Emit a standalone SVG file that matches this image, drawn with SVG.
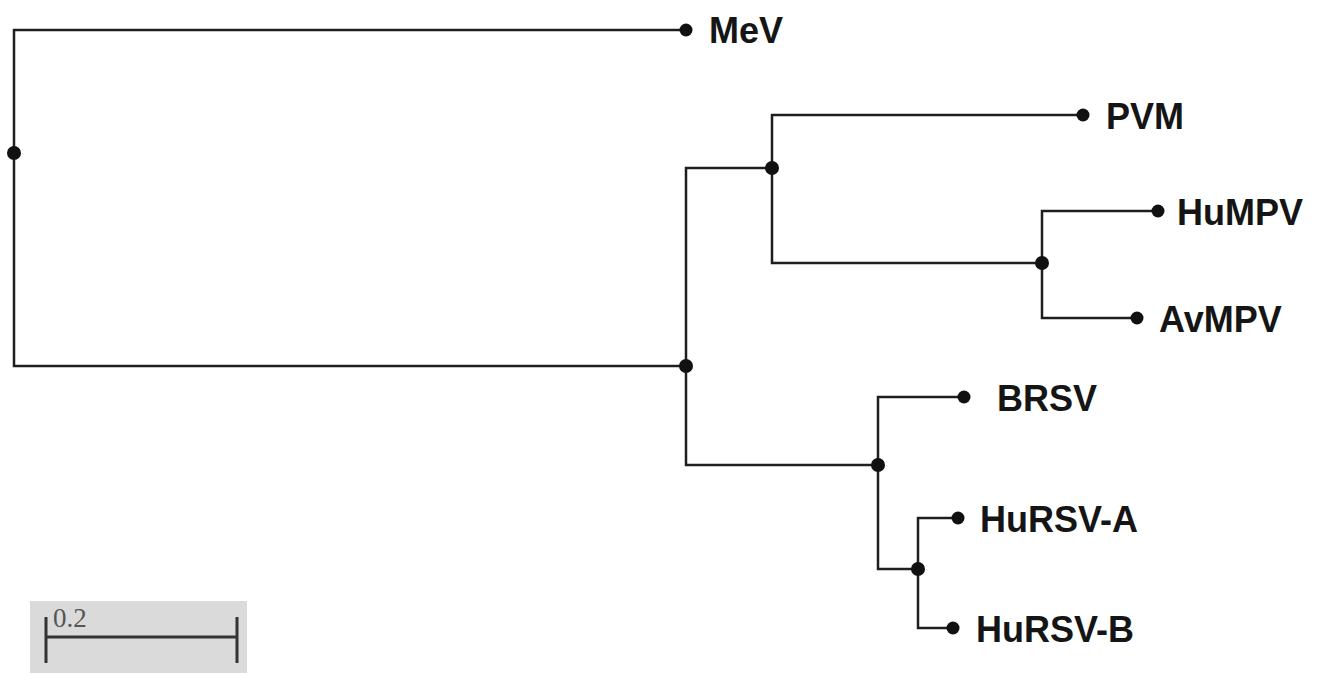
<svg xmlns="http://www.w3.org/2000/svg" width="1335" height="675" viewBox="0 0 1335 675">
  <style>
    .branch { fill: none; stroke: #1e1e1e; stroke-width: 2.5; }
    .dot { fill: #111; }
    .label { font-family: "Liberation Sans", Arial, sans-serif; font-weight: bold; font-size: 36px; fill: #151515; }
    .scale-line { stroke: #333; stroke-width: 3; fill: none; }
    .scale-text { font-family: "Liberation Serif", "Times New Roman", serif; font-size: 27px; fill: #555; }
  </style>
  <rect width="1335" height="675" fill="#ffffff"/>

  <!-- tree branches -->
  <g id="connectors">
    <path class="branch" d="M686 30 H14 V366 H686"/>
    <path class="branch" d="M772 168 H686 V465 H878"/>
    <path class="branch" d="M1083 115 H772 V263 H1042"/>
    <path class="branch" d="M1158 211 H1042 V318 H1137"/>
    <path class="branch" d="M964 397 H878 V569 H918"/>
    <path class="branch" d="M958 518 H918 V628 H953"/>
  </g>

  <!-- internal nodes -->
  <g id="node-root"><circle class="dot" cx="14" cy="153" r="7"/></g>
  <g id="node-pneumo"><circle class="dot" cx="686" cy="366" r="7"/></g>
  <g id="node-metapneumo"><circle class="dot" cx="772" cy="168" r="7"/></g>
  <g id="node-mpv"><circle class="dot" cx="1042" cy="263" r="7"/></g>
  <g id="node-rsv"><circle class="dot" cx="878" cy="465" r="7"/></g>
  <g id="node-hursv"><circle class="dot" cx="918" cy="569" r="7"/></g>

  <!-- leaves -->
  <g id="leaf-mev"><circle class="dot" cx="686" cy="30" r="6.5"/><text class="label" x="709" y="43">MeV</text></g>
  <g id="leaf-pvm"><circle class="dot" cx="1083" cy="115" r="6.5"/><text class="label" x="1106" y="129">PVM</text></g>
  <g id="leaf-humpv"><circle class="dot" cx="1158" cy="211" r="6.5"/><text class="label" x="1177" y="225">HuMPV</text></g>
  <g id="leaf-avmpv"><circle class="dot" cx="1137" cy="318" r="6.5"/><text class="label" x="1159" y="332">AvMPV</text></g>
  <g id="leaf-brsv"><circle class="dot" cx="964" cy="397" r="6.5"/><text class="label" x="997" y="411">BRSV</text></g>
  <g id="leaf-hursv-a"><circle class="dot" cx="958" cy="518" r="6.5"/><text class="label" x="980" y="532">HuRSV-A</text></g>
  <g id="leaf-hursv-b"><circle class="dot" cx="953" cy="628" r="6.5"/><text class="label" x="976" y="642">HuRSV-B</text></g>

  <!-- scale bar -->
  <g id="scale-bar">
    <rect x="30" y="601" width="217" height="72" fill="#dadada"/>
    <path class="scale-line" d="M46 617 V663 M46 637 H237 M237 617 V663"/>
    <text class="scale-text" x="53" y="627">0.2</text>
  </g>
</svg>
